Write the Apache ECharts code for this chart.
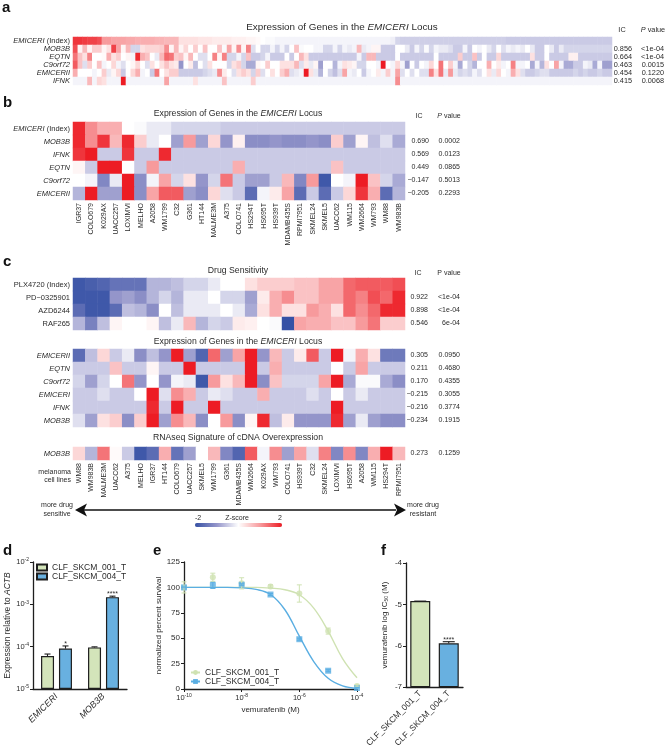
<!DOCTYPE html>
<html><head><meta charset="utf-8">
<style>html,body{margin:0;padding:0;background:#fff}#c{width:667px;height:750px}</style>
<script src="https://cdn.jsdelivr.net/npm/echarts@6/dist/echarts.min.js"></script>
</head><body><div id="c"></div>
<script>
// ---------- data: panel a ----------
const aGenes=['EMICERI (Index)','MOB3B','EQTN','C9orf72','EMICERII','IFNK'];
const aIndex=[1.8,1.8,1.75,1.7,1.7,1.6,1,1,.9,.9,.9,.85,.85,.8,
.8,.8,.8,.75,.75,.7,.7,.7,.3,.3,.3,.3,.25,.25,
.25,.2,.2,.2,.2,.15,.15,.15,.1,.1,.05,0,-.05,-.05,
-.1,-.1,-.1,-.1,-.1,-.1,-.1,-.1,-.1,-.1,-.1,-.1,-.1,-.1,
-.1,-.1,-.1,-.1,-.1,-.1,-.1,-.1,-.1,-.1,-.15,-.4,-.45,-.45,
-.45,-.45,-.45,-.45,-.45,-.45,-.45,-.45,-.45,-.45,-.45,-.45,-.45,-.45,
-.45,-.45,-.45,-.45,-.45,-.45,-.5,-.5,-.5,-.5,-.5,-.5,-.5,-.5,
-.5,-.5,-.5,-.5,-.5,-.5,-.5,-.5,-.5,-.5,-.5,-.5,-.5,-.5];
const aMOB3B=[1.6,.1,.7,.1,.5,.5,.1,.3,1.7,.9,.1,.7,-.4,-.4,
.3,.4,.4,.4,.5,1.1,.1,.7,.1,.4,0,.5,0,.6,
0,0,.6,-.05,.9,.1,1.1,.1,1.2,-.3,0,-.4,-.4,-.1,
-.4,-.1,-.4,0,.6,-.05,0,0,-.1,-.1,-.4,-.4,-.1,-.4,
-.1,-.2,-.1,.7,-.2,-.1,.1,.1,-.5,-.5,-.5,0,0,-.2,
-.5,-.1,-.4,-.05,-.4,-.1,-.2,-.2,-.3,-.5,-.5,-.1,-.5,0,
-.1,0,-.2,-.4,0,-.3,-.1,-.2,-.1,-.2,0,-.2,-.5,-.5,
0,-.2,-.5,-.2,-.4,-.4,-.4,-.4,-.4,-.4,-.4,-.4,-.4,-.4];
const aEQTN=[1.3,.6,.3,1.2,0,0,.05,.8,.3,.5,0,.1,-.1,1.9,
.8,.6,0,-.2,.7,1.4,1.3,.5,.6,.1,.7,0,-.3,-.3,
0,1.2,.1,1.2,-.4,-.4,-.1,-.4,.6,-.5,-.5,-.4,-.1,-.5,
-.5,-.5,0,-.5,0,.7,.3,-.5,-.5,-.5,-.5,-.5,-.5,-.5,
-.5,-.5,-.5,-.1,-.5,.7,.7,-.5,-.5,-.5,-.5,0,-.5,-.5,
-.5,-.5,-.5,-.5,-.5,0,-.5,-.5,-.5,-.5,.5,-.5,-.5,.6,
-.5,0,-.5,-.5,.4,-.5,-.5,-.5,-.5,-.5,-.5,.3,-.5,-.5,
0,-.5,-.5,-.5,-.5,.15,.15,-.5,-.5,-.5,-.5,-.5,-.5,-.5];
const aC9orf72=[1.5,.6,-.3,.5,0,.6,-.1,0,.4,-.1,-.3,0,.1,.4,
0,-.3,.3,0,.3,.6,.3,.2,-1,0,.2,-.6,0,-.3,
.3,0,0,0,-.4,.3,.5,-.4,-.8,-.8,.1,0,.5,0,
0,.3,.3,.3,.7,-.3,.2,-.2,.1,-.9,0,0,-.7,-.1,
.3,.2,.1,-.4,-.4,0,0,-.1,2,0,-.1,.4,-.1,-.9,
0,-.5,0,-.1,.4,0,1.3,0,.5,-.1,-.8,0,-.4,-.7,
0,0,.8,0,.2,-.1,0,1.2,-.1,-.1,0,-.8,-.1,-.7,
.3,0,.9,-.1,-.8,-.8,-.5,-.5,-.1,-.2,-.8,-.1,-.9,-.9];
const aEMICERII=[.8,0,0,0,-.1,0,.5,-.2,.1,.4,-.5,0,.4,.8,
-.1,0,-.5,1.3,0,.3,.5,.5,-.5,-.5,-.5,-.5,-.5,-.4,
-.3,-.2,1.1,.2,0,-.3,.3,.5,.3,-.4,.5,-.3,0,.3,
0,.5,.8,-.3,-.2,-.1,2,.3,-.2,-.7,0,-.4,-.6,-.3,
.9,-.1,-.2,0,-.5,-.1,0,.2,-.1,.5,-.1,.9,-.3,0,
-.3,0,-.3,-.3,1.2,.3,1.3,-.2,1,-.2,-.4,-.3,-.4,-.1,
-.3,0,.3,-.2,.4,0,-.1,.8,.3,-.3,-.5,-.5,-.4,-.3,
-.3,-.5,-.5,-.5,-.5,-.5,-.4,-.5,-.4,-.5,-.5,-.4,-.5,-.5];
const aIFNK=[-.1,-.1,-.1,.7,-.1,.4,.3,-.1,-.1,-.1,2,-.1,-.1,-.1,
-.1,-.1,-.1,-.1,-.1,.9,-.1,-.1,-.1,-.1,-.1,.3,-.1,-.1,
-.1,-.1,-.1,.6,-.1,-.1,-.1,-.1,-.1,.5,-.1,-.1,-.1,-.1,
-.1,-.1,-.1,-.1,-.1,-.1,-.1,-.1,-.1,-.1,-.1,-.1,-.1,-.1,
-.1,-.1,-.1,-.1,-.1,-.1,-.1,-.1,-.1,-.1,-.1,1.1,-.1,-.1,
-.1,-.1,-.1,-.1,-.1,-.1,-.1,-.1,-.1,-.1,-.1,-.1,-.1,-.1,
-.1,-.1,-.1,-.1,-.1,-.1,-.1,-.1,-.1,-.1,-.1,-.1,-.1,-.1,
-.1,-.1,-.1,-.1,-.1,-.1,-.1,-.1,-.1,-.1,-.1,-.1,-.1,-.1];
const aIC=['0.856','0.664','0.463','0.454','0.415'];
const aP=['<1e-04','<1e-04','0.0015','0.1220','0.0068'];
// ---------- data: panel b ----------
const bLines=['IGR37','COLO679','K029AX','UACC257','LOXIMVI','MELHO','A2058','WM1799','C32','G361','HT144','MALME3M','A375','COLO741','HS294T','HS695T','HS939T','MDAMB435S','RPMI7951','SKMEL24','SKMEL5','UACC62','WM115','WM2664','WM793','WM88','WM983B'];
const bGenes=['EMICERI (Index)','MOB3B','IFNK','EQTN','C9orf72','EMICERII'];
const bIndex=[1.9,1.1,.8,.8,0,-.05,-.2,-.2,-.4,-.4,-.4,-.4,-.5,-.5,-.5,-.5,-.5,-.5,-.5,-.5,-.5,-.5,-.5,-.5,-.5,-.5,-.5];
const bMOB3B=[1.9,1.1,1.8,.7,1.9,.5,-.2,0,-.9,1,-.9,.4,-1,.15,-1.1,-1.1,-1,-1.1,-1.1,-1,-1.1,.5,-.9,.1,-.6,-.3,-.8];
const bIFNK=[1.8,2,-.5,-.5,1.8,-.5,-.5,1.9,-.5,-.5,-.5,-.5,-.5,-.5,-.5,-.5,-.5,-.5,-.5,-.5,-.5,-.5,-.5,-.5,-.5,-.5,-.5];
const bEQTN=[.1,-.5,2,2,0,-.5,1,-.5,-.5,-.5,-.5,-.5,-.5,.8,-.5,-.5,-.5,-.5,-.5,-.5,-.5,.6,-.5,-.5,-.5,-.5,-.5];
const bC9orf72=[0,-.1,-1.2,-.2,2,-1.1,-.1,.9,-.4,.3,-1,-.4,1.3,-.5,-.9,-.9,-.5,.7,-1.2,1,-1.9,0,-.1,2,.6,-.4,-.8];
const bEMICERII=[-.7,2,-.9,-.9,2,-1.1,.9,1.5,1.5,-.9,-1.1,.4,-.3,-.5,-1.6,-.1,.2,.9,-1.6,-.5,-1.6,-.5,.4,1.8,.8,-1.6,-.7];
const bIC=['0.690','0.569','0.449','\u22120.147','\u22120.205'];
const bP=['0.0002','0.0123','0.0865','0.5013','0.2293'];
// ---------- data: panel c ----------
const cLines=['WM88','WM983B','MALME3M','UACC62','A375','MELHO','IGR37','HT144','COLO679','UACC257','SKMEL5','WM1799','G361','MDAMB435S','WM2664','K029AX','WM793','COLO741','HS939T','C32','SKMEL24','LOXIMVI','HS695T','A2058','WM115','HS294T','RPMI7951'];
const cDrugs=['PLX4720 (Index)','PD\u22120325901','AZD6244','RAF265'];
const cPLX=[-1.9,-1.8,-1.7,-1.5,-1.5,-1.5,-.7,-.7,-.6,-.4,-.4,-.2,0,0,.3,.5,.5,.5,.6,.6,.9,.9,1.4,1.5,1.5,1.5,1.6];
const cPD=[-1.9,-1.9,-1.9,-1,-.9,-1.1,-.7,-.4,-.7,-.2,-.2,0,-.4,-.4,-.9,.2,.8,1.1,.6,.6,.9,.9,1.4,1.2,1.6,1.4,1.9];
const cAZD=[-1.6,-1.9,-1.9,-1.6,-.6,-.7,-1.1,0,-.6,-.2,-.2,-.2,0,-.2,-.8,.3,.8,.3,.3,1,.8,.3,1.4,1.1,1.4,1.9,1.9];
const cRAF=[-.7,-1.3,-.6,.1,0,0,.1,-.6,-.2,.7,-.7,-.4,-.5,.2,.15,0,-.05,-2,.9,.8,.8,.6,.6,1,1.3,.5,.5];
const cDrugIC=['0.922','0.898','0.546'];
const cDrugP=['<1e-04','<1e-04','6e-04'];
const cGenes=['EMICERII','EQTN','C9orf72','EMICERI','IFNK','MOB3B'];
const cEMICERII=[-1.6,-.6,.4,-.5,-.2,-1.1,-.6,-1,2,-.9,-1.7,1.4,-.9,.9,2,-1,.7,-.5,.2,1.5,-.5,2,-.1,.8,.3,-1.4,-1.4];
const cEQTN=[-.5,-.5,-.5,.6,-.5,-.5,.1,-.5,-.5,2,-.5,-.5,-.5,-.5,2,-.5,.8,-.5,-.5,-.5,-.5,0,-.5,.9,-.5,-.5,-.5];
const cC9orf72=[-.4,-.9,-.4,0,1.3,-1,0,-1,-.1,-.2,-1.9,1,.3,.7,2,-1.1,.6,-.4,-.4,-.4,.9,2,-.8,-.05,-.05,-.8,-1.1];
const cEMICERI=[-.5,-.5,-.3,-.5,-.5,0,2,-.3,1.1,.8,-.5,-.2,-.3,-.5,-.5,.8,-.5,-.5,-.5,-.3,-.5,0,-.5,-.2,-.5,-.5,-.5];
const cIFNK=[-.5,-.5,-.5,-.5,-.5,-.5,1.9,-.5,2,-.5,-.5,2,-.5,-.5,-.5,-.5,-.5,-.5,-.5,-.5,-.5,2,-.5,-.5,-.5,-.5,-.5];
const cMOB3B=[-.3,-.9,.3,.5,-1.1,.5,2,-.9,1.1,.7,-1.1,0,1,-1.1,.1,1.9,-.6,.2,-1,-1,-1,1.9,-.9,-.2,-.9,-1.1,-1.1];
const cGeneIC=['0.305','0.211','0.170','\u22120.215','\u22120.216','\u22120.234'];
const cGeneP=['0.0950','0.4680','0.4355','0.3055','0.3774','0.1915'];
const cSig=[.4,-.7,1.3,.05,-.5,-1.9,-1.6,.8,-1.5,-.9,0,.7,-1.2,-1.7,1.5,-.1,1.1,-.9,.9,-.3,1.2,-1.2,1.1,-1.2,.8,2,.7];
const cSigIC=['0.273'];const cSigP=['0.1259'];
// ---------- data: panels d, e, f ----------
const lineA='CLF_SKCM_001_T',lineB='CLF_SKCM_004_T';
const dCats=['EMICERI','MOB3B'];
const dA=[6e-5,9.6e-5];const dB=[9e-5,1.48e-3];
const dAHigh=[6.7e-5,9.9e-5];const dBHigh=[1.04e-4,1.56e-3];
const dStars=['*','****'];
const eDose=[1e-10,1e-9,1e-8,1e-7,1e-6,1e-5,1e-4];
const eA=[100,110,104,101,94,57,3];const eAErr=[5.5,4,5.5,1.5,8.5,3,1];
const eB=[100,102,102.6,93,49,18,1];const eBErr=[.5,3,1,1,1,1,.5];
const eCurveDose=[1e-10,3.16e-10,1e-9,3.16e-9,1e-8,3.16e-8,1e-7,3.16e-7,1e-6,3.16e-6,1e-5,3.16e-5,1e-4];
const eCurveA=[100,100,100,100,100,100,99.3,97.7,92.8,79.6,57,30,11];
const eCurveB=[100,100,100,100,99.5,98,93,78,52,27,10.5,3,.5];
const fCats=[lineA,lineB];
const fVals=[-4.92,-5.94];const fHigh=[-4.92,-5.90];const fStars=['','****'];

const FF='"Liberation Sans",Arial,sans-serif';
const INK='#2b2b2b',GREEN='#d3e4ba',BLUE='#68b0e0',GL='#cfe2b2',BL='#5aaee2',DARK='#1e1e1e';
const heat=rows=>rows.flatMap((r,y)=>r.map((v,x)=>[x,y,v]));
const rowLabel=v=>v.endsWith(' (Index)')&&!/PLX/.test(v)?'{i|'+v.replace(' (Index)','')+'} (Index)':(/PLX|PD|AZD|RAF/.test(v)?v:'{i|'+v+'}');
const grids=[
 {left:73,top:37,width:539,height:48},
 {left:73,top:122,width:332,height:78},
 {left:73,top:278,width:332,height:52},
 {left:73,top:349,width:332,height:78},
 {left:73,top:447,width:332,height:13},
 {left:33,top:562,width:94,height:127},
 {left:184,top:562,width:173,height:127},
 {left:406,top:563,width:57,height:126}];
const catX=(g,d,show)=>({type:'category',gridIndex:g,data:d,position:'bottom',axisLine:{show:false},axisTick:{show:false},splitLine:{show:false},
 axisLabel:show?{show:true,interval:0,rotate:90,fontSize:7,fontFamily:FF,color:INK,margin:3}:{show:false}});
const catY=(g,d,fs)=>({type:'category',gridIndex:g,data:d,inverse:true,axisLine:{show:false},axisTick:{show:false},splitLine:{show:false},
 axisLabel:{show:true,interval:0,fontSize:fs||7.5,fontFamily:FF,color:INK,margin:3,formatter:rowLabel,rich:{i:{fontStyle:'italic',fontSize:fs||7.5,fontFamily:FF,color:INK}}}});
const sty={lineStyle:{color:DARK,width:1.3}};
const powFmt=v=>'10{s|'+Math.round(Math.log10(v))+'}';
const supRich={s:{fontSize:5,fontFamily:FF,color:INK,padding:[0,0,4,0]}};
const aCols=Array.from({length:aIndex.length},(_,i)=>String(i+1));
const xAxis=[catX(0,aCols,false),catX(1,bLines,true),catX(2,cLines,false),catX(3,cLines,false),catX(4,cLines,true),
 {type:'category',gridIndex:5,data:dCats,axisLine:sty,axisTick:{show:false},axisLabel:{interval:0,rotate:45,fontSize:9,fontStyle:'italic',fontFamily:FF,color:INK,margin:6}},
 {type:'log',gridIndex:6,min:1e-10,max:1e-4,logBase:10,interval:2,splitLine:{show:false},minorTick:{show:false},axisLine:sty,axisTick:{length:3,lineStyle:{color:DARK,width:1}},
  name:'vemurafenib (M)',nameLocation:'middle',nameGap:17,nameTextStyle:{fontSize:8,fontFamily:FF,color:INK},
  axisLabel:{fontSize:7.5,fontFamily:FF,color:INK,margin:4,formatter:powFmt,rich:supRich}},
 {type:'category',gridIndex:7,data:fCats,axisLine:sty,axisTick:{show:false},axisLabel:{interval:0,rotate:45,fontSize:8.5,fontFamily:FF,color:INK,margin:5}}];
const yAxis=[catY(0,aGenes),catY(1,bGenes),catY(2,cDrugs),catY(3,cGenes),catY(4,['MOB3B']),
 {type:'log',gridIndex:5,min:1e-5,max:1e-2,logBase:10,startValue:1e-5,splitLine:{show:false},minorTick:{show:false},axisLine:{show:true,...sty},axisTick:{show:true,length:3,lineStyle:{color:DARK,width:1}},
  name:'Expression relative to {i|ACTB}',nameLocation:'middle',nameGap:20,nameTextStyle:{fontSize:8.5,fontFamily:FF,color:INK,rich:{i:{fontStyle:'italic',fontSize:8.5,fontFamily:FF,color:INK}}},
  axisLabel:{fontSize:7.5,fontFamily:FF,color:INK,margin:4,formatter:powFmt,rich:supRich}},
 {type:'value',gridIndex:6,min:0,max:125,interval:25,splitLine:{show:false},axisLine:{show:true,...sty},axisTick:{show:true,length:3,lineStyle:{color:DARK,width:1}},
  name:'normalized percent survival',nameLocation:'middle',nameGap:21,nameTextStyle:{fontSize:8,fontFamily:FF,color:INK},
  axisLabel:{fontSize:8,fontFamily:FF,color:INK,margin:4}},
 {type:'value',gridIndex:7,min:-7,max:-4,interval:1,startValue:-7,splitLine:{show:false},axisLine:{show:true,...sty},axisTick:{show:true,length:3,lineStyle:{color:DARK,width:1}},
  name:'vemurafenib log IC{s|50} (M)',nameLocation:'middle',nameGap:17,nameTextStyle:{fontSize:8,fontFamily:FF,color:INK,rich:{s:{fontSize:5,fontFamily:FF,color:INK,padding:[4,0,0,0]}}},
  axisLabel:{fontSize:8,fontFamily:FF,color:INK,margin:4}}];
// heatmap series
const hm=(g,rows)=>({type:'heatmap',xAxisIndex:g,yAxisIndex:g,data:heat(rows),progressive:0,itemStyle:{borderWidth:0},emphasis:{disabled:true}});
// error bars drawn through the axes
const errBars=(name,g,data,off,color,lw,cap,stars)=>({type:'custom',name,xAxisIndex:g,yAxisIndex:g,data,encode:{x:0,y:[1,2]},z:5,clip:false,silent:true,
 renderItem:(p,api)=>{
  const x=api.value(0),lo=api.coord([x,api.value(1)]),hi=api.coord([x,api.value(2)]);
  const px=lo[0]+off,st={stroke:color,lineWidth:lw,fill:'none'};
  const ch=[{type:'line',shape:{x1:px,y1:lo[1],x2:px,y2:hi[1]},style:st},{type:'line',shape:{x1:px-cap,y1:hi[1],x2:px+cap,y2:hi[1]},style:st}];
  if(lo[1]-hi[1]>2&&g===6)ch.push({type:'line',shape:{x1:px-cap,y1:lo[1],x2:px+cap,y2:lo[1]},style:st});
  if(stars&&stars[p.dataIndex])ch.push({type:'text',style:{text:stars[p.dataIndex],x:px,y:hi[1]-2,align:'center',verticalAlign:'middle',fontSize:7,fontFamily:FF,fill:INK}});
  return {type:'group',children:ch};
 }});
const barSty=c=>({color:c,borderColor:DARK,borderWidth:1.2});
const series=[
 hm(0,[aIndex,aMOB3B,aEQTN,aC9orf72,aEMICERII,aIFNK]),
 hm(1,[bIndex,bMOB3B,bIFNK,bEQTN,bC9orf72,bEMICERII]),
 hm(2,[cPLX,cPD,cAZD,cRAF]),
 hm(3,[cEMICERII,cEQTN,cC9orf72,cEMICERI,cIFNK,cMOB3B]),
 hm(4,[cSig]),
 {type:'bar',name:lineA,xAxisIndex:5,yAxisIndex:5,data:dA,barWidth:13,barGap:'38%',itemStyle:barSty(GREEN)},
 {type:'bar',name:lineB,xAxisIndex:5,yAxisIndex:5,data:dB,barWidth:13,barGap:'38%',itemStyle:barSty(BLUE)},
 errBars('dErrA',5,dA.map((v,i)=>[i,v,dAHigh[i]]),-9,DARK,1.1,3,null),
 errBars('dErrB',5,dB.map((v,i)=>[i,v,dBHigh[i]]),9,DARK,1.1,3,dStars),
 {type:'line',name:lineA+' ',xAxisIndex:6,yAxisIndex:6,data:eCurveDose.map((d,i)=>[d,eCurveA[i]]),smooth:.4,symbol:'circle',symbolSize:6,showSymbol:false,lineStyle:{color:GL,width:1.4},itemStyle:{color:GL},clip:false},
 {type:'line',name:lineB+' ',xAxisIndex:6,yAxisIndex:6,data:eCurveDose.map((d,i)=>[d,eCurveB[i]]),smooth:.4,symbol:'rect',symbolSize:6,showSymbol:false,lineStyle:{color:BL,width:1.4},itemStyle:{color:BL},clip:false},
 {type:'scatter',name:'eA',xAxisIndex:6,yAxisIndex:6,data:eDose.map((d,i)=>[d,eA[i]]),symbol:'circle',symbolSize:6,itemStyle:{color:GL},clip:false},
 {type:'scatter',name:'eB',xAxisIndex:6,yAxisIndex:6,data:eDose.map((d,i)=>[d,eB[i]]),symbol:'rect',symbolSize:6,itemStyle:{color:BL},clip:false},
 errBars('eErrA',6,eDose.map((d,i)=>[d,eA[i]-eAErr[i],eA[i]+eAErr[i]]),0,GL,1,2.5,null),
 errBars('eErrB',6,eDose.map((d,i)=>[d,eB[i]-eBErr[i],eB[i]+eBErr[i]]),0,BL,1,2.5,null),
 {type:'bar',name:'fBars',xAxisIndex:7,yAxisIndex:7,barWidth:20,data:[{value:fVals[0],itemStyle:barSty(GREEN)},{value:fVals[1],itemStyle:barSty(BLUE)}]},
 errBars('fErr',7,fVals.map((v,i)=>[i,v,fHigh[i]]),0,DARK,1.1,6,fStars)
];
// text annotations
const txt=(text,x,y,o)=>({type:'text',silent:true,z:10,style:Object.assign({text,x,y,align:'center',verticalAlign:'middle',fontSize:7,fontFamily:FF,fill:INK},o||{})});
const itRich=fs=>({i:{fontStyle:'italic',fontSize:fs,fontFamily:FF,fill:INK,color:INK}});
const title=(t,x,y,fs)=>txt(t,x,y,{fontSize:fs,rich:itRich(fs)});
const col=(vals,top,h,x,fs)=>vals.map((v,i)=>txt(v,x,top+h*(i+.5),{align:'right',fontSize:fs}));
const letter=(t,x,y)=>txt(t,x,y,{align:'left',fontSize:15,fontWeight:'bold',fill:'#111'});
const gfx=[
 letter('a',2,8),letter('b',3,103),letter('c',3,262),letter('d',3,551),letter('e',153,551),letter('f',381,551),
 title('Expression of Genes in the {i|EMICERI} Locus',342,27,9.9),
 title('Expression of Genes in the {i|EMICERI} Locus',238,114,8.7),
 title('Drug Sensitivity',238,271,8.7),
 title('Expression of Genes in the {i|EMICERI} Locus',238,342,8.7),
 title('RNAseq Signature of cDNA Overexpression',238,438,8.7),
 txt('IC',622,30,{fontSize:7.3}),txt('{i|P} value',653,30,{fontSize:7.3,rich:itRich(7.3)}),
 txt('IC',419,116),txt('{i|P} value',449,116,{rich:itRich(7)}),
 txt('IC',418,273),txt('P value',449,273),
 ...col(aIC,45,8,632,7.3),...col(aP,45,8,664,7.3),
 ...col(bIC,135,13,429,7),...col(bP,135,13,460,7),
 ...col(cDrugIC,291,13,428,7),...col(cDrugP,291,13,460,7),
 ...col(cGeneIC,349,13,428,7),...col(cGeneP,349,13,460,7),
 ...col(cSigIC,447,13,428,7),...col(cSigP,447,13,460,7),
 txt('melanoma',71,472,{align:'right'}),txt('cell lines',71,480,{align:'right'}),
 txt('more drug',57,505),txt('sensitive',57,514),txt('more drug',423,505),txt('resistant',423,514),
 txt('-2',198,518),txt('Z-score',237,518),txt('2',280,518),
 {type:'line',silent:true,shape:{x1:84,y1:510,x2:396,y2:510},style:{stroke:'#111',lineWidth:1.5}},
 {type:'polygon',silent:true,shape:{points:[[75,510],[87,503.5],[84,510],[87,516.5]]},style:{fill:'#111'}},
 {type:'polygon',silent:true,shape:{points:[[406,510],[394,503.5],[397,510],[394,516.5]]},style:{fill:'#111'}}
];
const chart=echarts.init(document.getElementById('c'));
chart.setOption({animation:false,backgroundColor:'#fff',grid:grids,xAxis,yAxis,series,graphic:gfx,
 visualMap:{type:'continuous',seriesIndex:[0,1,2,3,4],min:-2,max:2,orient:'horizontal',left:195,top:523,itemWidth:4,itemHeight:87,padding:0,text:null,calculable:false,hoverLink:false,
  inRange:{color:['#3651a5','#9495ca','#ffffff','#f79a9c','#ed1c24']}},
 legend:[{left:36,top:563,padding:0,orient:'vertical',data:[lineA,lineB],icon:'rect',itemWidth:10,itemHeight:6,itemGap:0,textStyle:{fontSize:8.5,fontFamily:FF,color:INK},selectedMode:false},
         {left:190,top:668,padding:0,orient:'vertical',data:[lineA+' ',lineB+' '],itemWidth:9,itemHeight:6,itemGap:0,textStyle:{fontSize:8.5,fontFamily:FF,color:INK},selectedMode:false}]
});
</script></body></html>
